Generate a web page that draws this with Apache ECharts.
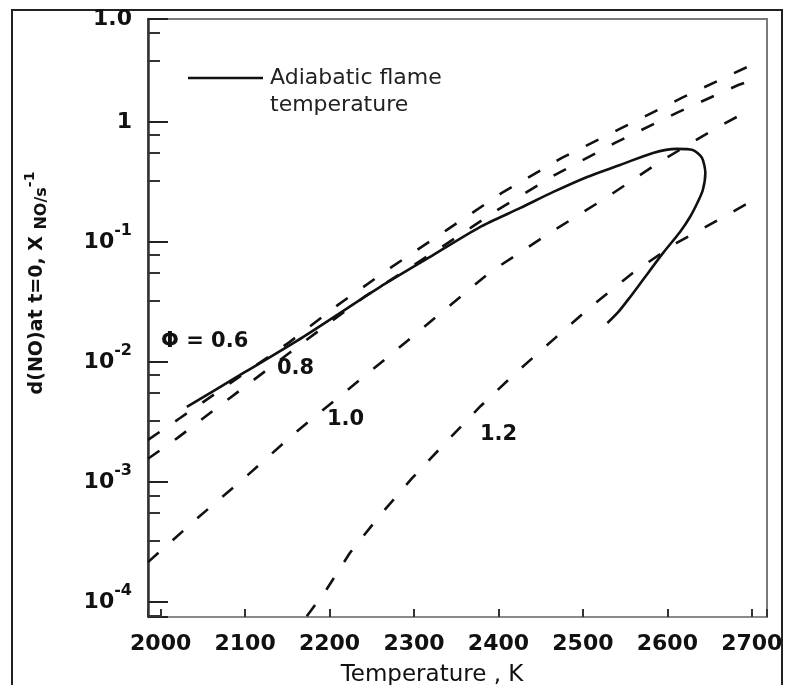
<!DOCTYPE html>
<html>
<head>
<meta charset="utf-8">
<script src="https://cdn.jsdelivr.net/npm/echarts@6/dist/echarts.min.js"></script>
<style>
  html, body { margin: 0; padding: 0; background: #fff; }
  #chart { width: 785px; height: 685px; }
</style>
</head>
<body>
<div id="chart"></div>
<script>
// temperatures (K) and initial NO formation rates (s^-1)
const phi06Temp = [1985, 2023, 2153, 2210, 2272, 2339, 2404, 2475, 2546, 2617, 2696];
const phi06Rate = [2.24e-3, 3.41e-3, 0.0147, 0.0299, 0.0607, 0.126, 0.256, 0.501, 0.891, 1.585, 2.9];

const phi08Temp = [1985, 2020, 2082, 2165, 2241, 2333, 2399, 2467, 2538, 2611, 2684, 2698];
const phi08Rate = [1.56e-3, 2.33e-3, 5.01e-3, 0.0139, 0.0348, 0.0908, 0.185, 0.362, 0.668, 1.19, 2.03, 2.2];

const phi10Temp = [1985, 2045, 2103, 2159, 2218, 2275, 2390, 2461, 2529, 2591, 2660, 2698];
const phi10Rate = [2.15e-4, 5.1e-4, 1.14e-3, 2.56e-3, 5.6e-3, 0.0119, 0.056, 0.119, 0.237, 0.464, 0.908, 1.26];

const phi12Temp = [2173, 2196, 2224, 2260, 2298, 2338, 2379, 2423, 2467, 2512, 2559, 2611, 2639, 2698];
const phi12Rate = [7.6e-5, 1.26e-4, 2.56e-4, 5.31e-4, 1.08e-3, 2.15e-3, 4.3e-3, 8.41e-3, 0.0158, 0.0299, 0.0552, 0.098, 0.126, 0.215];

// adiabatic flame temperature path (turns back on itself past stoichiometric)
const flameTemp = [2031, 2100, 2169, 2260, 2319, 2378, 2426, 2465, 2505, 2544, 2583, 2611, 2630, 2641, 2645, 2642, 2636, 2627, 2615, 2595, 2571, 2556, 2542, 2529];
const flameRate = [4.22e-3, 8.25e-3, 0.0162, 0.0422, 0.075, 0.133, 0.192, 0.261, 0.348, 0.438, 0.552, 0.596, 0.584, 0.501, 0.376, 0.271, 0.215, 0.162, 0.121, 0.081, 0.0482, 0.0348, 0.0261, 0.0211];

const xMin = 1985;
const xMax = 2718;
const yMin = 7.5e-5;
const yMax = 7.2;

const FONT = 'DejaVu Sans';
const INK = '#111';

const pairs = (xs, ys) => xs.map((x, i) => [x, ys[i]]);

const dashed = {
  type: [14, 19],
  width: 2.6,
  color: INK,
  cap: 'butt',
};

const dashSeries = (name, xs, ys) => ({
  name,
  type: 'line',
  data: pairs(xs, ys),
  showSymbol: false,
  symbol: 'none',
  lineStyle: dashed,
  z: 3,
});

const chart = echarts.init(document.getElementById('chart'), null, { renderer: 'canvas' });

const option = {
  animation: false,
  backgroundColor: '#fff',
  grid: {
    left: 148,
    right: 18,
    top: 19,
    bottom: 68,
    show: true,
    borderColor: '#7a7a7a',
    borderWidth: 2,
    containLabel: false,
    outerBoundsMode: 'none',
  },
  xAxis: {
    type: 'value',
    min: xMin,
    max: xMax,
    splitNumber: 7,
    axisLine: { lineStyle: { color: '#8a8a8a', width: 2 } },
    axisTick: { show: true, inside: true, length: 8, lineStyle: { color: '#333', width: 2 } },
    splitLine: { show: false },
    axisLabel: {
      margin: 16,
      fontFamily: FONT,
      fontWeight: 'bold',
      fontSize: 22,
      color: INK,
      formatter: v => (v % 100 === 0 ? String(v) : ''),
    },
  },
  yAxis: {
    type: 'log',
    logBase: 10,
    min: yMin,
    max: yMax,
    axisLine: { lineStyle: { color: '#333', width: 2.5 } },
    axisTick: { show: true, inside: true, length: 20, lineStyle: { color: '#222', width: 2 } },
    minorTick: { show: true, splitNumber: 4, length: 12, lineStyle: { color: '#333', width: 2 } },
    splitLine: { show: false },
    axisLabel: {
      margin: 16,
      color: INK,
      formatter: v => {
        if (v > 5) return '{n|1.0}';
        if (v < 9e-5) return '';
        const e = Math.round(Math.log10(v));
        if (e === 0) return '{n|1}';
        return '{n|10}{s|' + e + '}';
      },
      rich: {
        n: { fontFamily: FONT, fontWeight: 'bold', fontSize: 22, color: INK },
        s: { fontFamily: FONT, fontWeight: 'bold', fontSize: 16, color: INK, padding: [0, 0, 22, 0] },
      },
    },
  },
  series: [
    dashSeries('Φ = 0.6', phi06Temp, phi06Rate),
    dashSeries('Φ = 0.8', phi08Temp, phi08Rate),
    dashSeries('Φ = 1.0', phi10Temp, phi10Rate),
    dashSeries('Φ = 1.2', phi12Temp, phi12Rate),
    {
      name: 'Adiabatic flame temperature',
      type: 'line',
      data: pairs(flameTemp, flameRate),
      showSymbol: false,
      symbol: 'none',
      smooth: 0.25,
      lineStyle: { color: INK, width: 2.6 },
      z: 4,
    },
  ],
  graphic: [
    // outer frame of the figure
    {
      type: 'rect',
      shape: { x: 12, y: 10, width: 770, height: 690 },
      style: { fill: 'none', stroke: '#222', lineWidth: 2 },
      silent: true,
    },
    // legend
    {
      type: 'line',
      shape: { x1: 188, y1: 78, x2: 263, y2: 78 },
      style: { stroke: INK, lineWidth: 2.6 },
    },
    {
      type: 'text', x: 270, y: 78,
      style: { text: 'Adiabatic flame', font: '22px "DejaVu Sans"', fill: '#222', verticalAlign: 'middle' },
    },
    {
      type: 'text', x: 270, y: 105,
      style: { text: 'temperature', font: '22px "DejaVu Sans"', fill: '#222', verticalAlign: 'middle' },
    },
    // curve labels
    {
      type: 'text', x: 161, y: 342,
      style: { text: 'Φ = 0.6', font: 'bold 21px "DejaVu Sans"', fill: INK, verticalAlign: 'middle' },
    },
    {
      type: 'text', x: 277, y: 369,
      style: { text: '0.8', font: 'bold 21px "DejaVu Sans"', fill: INK, verticalAlign: 'middle' },
    },
    {
      type: 'text', x: 327, y: 420,
      style: { text: '1.0', font: 'bold 21px "DejaVu Sans"', fill: INK, verticalAlign: 'middle' },
    },
    {
      type: 'text', x: 480, y: 435,
      style: { text: '1.2', font: 'bold 21px "DejaVu Sans"', fill: INK, verticalAlign: 'middle' },
    },
    // axis titles
    {
      type: 'text', x: 432, y: 675,
      style: { text: 'Temperature , K', font: '23px "DejaVu Sans"', fill: INK, align: 'center', verticalAlign: 'middle' },
    },
    {
      type: 'text', x: 37, y: 283, rotation: Math.PI / 2,
      style: {
        text: '{m|d(NO)at t=0, X }{b|NO/s}{p|-1}',
        align: 'center',
        verticalAlign: 'middle',
        fill: INK,
        rich: {
          m: { fontFamily: FONT, fontWeight: 'bold', fontSize: 19, fill: INK },
          b: { fontFamily: FONT, fontWeight: 'bold', fontSize: 16, fill: INK, padding: [10, 0, 0, 0] },
          p: { fontFamily: FONT, fontWeight: 'bold', fontSize: 14, fill: INK, padding: [0, 0, 14, 0] },
        },
      },
    },
  ],
};

chart.setOption(option);
</script>
</body>
</html>
